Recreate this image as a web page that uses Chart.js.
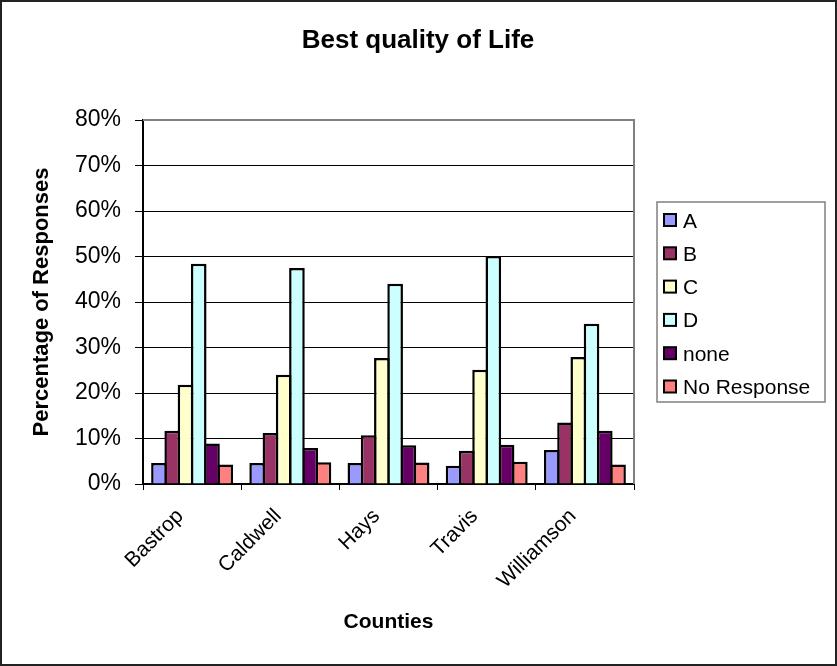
<!DOCTYPE html>
<html>
<head>
<meta charset="UTF-8">
<title>Best quality of Life</title>
<script src="https://cdn.jsdelivr.net/npm/chart.js"></script>
<style>
  html, body { margin: 0; padding: 0; background: #fff; }
  #wrap { width: 837px; height: 666px; }
</style>
</head>
<body>
<div id="wrap"><canvas id="chart" width="837" height="666"></canvas></div>
<script>
// data (percent)
const counties = ['Bastrop', 'Caldwell', 'Hays', 'Travis', 'Williamson'];
const seriesNames = ['A', 'B', 'C', 'D', 'none', 'No Response'];
const valuesA    = [4.6, 4.6, 4.6, 4.0, 7.5];
const valuesB    = [11.7, 11.2, 10.7, 7.3, 13.5];
const valuesC    = [21.8, 24.0, 27.7, 25.1, 27.9];
const valuesD    = [48.4, 47.5, 44.0, 50.1, 35.2];
const valuesNone = [8.9, 7.9, 8.5, 8.6, 11.7];
const valuesNR   = [4.3, 4.8, 4.7, 4.9, 4.3];
const colors = ['#9999FF', '#993366', '#FFFFCC', '#CCFFFF', '#660066', '#FF8080'];

const allValues = [valuesA, valuesB, valuesC, valuesD, valuesNone, valuesNR];
const FONT = '"Liberation Sans", Arial, sans-serif';

// outer frame, title, legend and plot border drawn by hand
const framePlugin = {
    id: 'frame',
    afterDraw(chart) {
        const ctx = chart.ctx;
        ctx.save();
        ctx.strokeStyle = '#222';
        ctx.lineWidth = 2;
        ctx.strokeRect(1, 1, 835, 664);

        // title
        ctx.fillStyle = '#000';
        ctx.font = 'bold 26px ' + FONT;
        ctx.textAlign = 'center';
        ctx.textBaseline = 'alphabetic';
        ctx.fillText('Best quality of Life', 418, 48);

        // legend
        const lx = 657, ly = 202, lw = 168, lh = 200;
        ctx.strokeStyle = '#808080';
        ctx.lineWidth = 1.5;
        ctx.strokeRect(lx, ly, lw, lh);
        ctx.font = '21px ' + FONT;
        ctx.textAlign = 'left';
        ctx.textBaseline = 'alphabetic';
        seriesNames.forEach((name, i) => {
            const cy = 220 + i * 33.3;
            ctx.fillStyle = colors[i];
            ctx.fillRect(664, cy - 6, 12, 12);
            ctx.strokeStyle = '#000';
            ctx.lineWidth = 2;
            ctx.strokeRect(664, cy - 6, 12, 12);
            ctx.fillStyle = '#000';
            ctx.fillText(name, 683, cy + 7.5);
        });

        // plot area border (grey)
        const a = chart.chartArea;
        ctx.strokeStyle = '#808080';
        ctx.lineWidth = 2;
        ctx.beginPath();
        ctx.moveTo(a.left, a.top);
        ctx.lineTo(a.right, a.top);
        ctx.lineTo(a.right, a.bottom);
        ctx.stroke();
        ctx.restore();
    }
};

new Chart(document.getElementById('chart'), {
    type: 'bar',
    data: {
        labels: counties,
        datasets: seriesNames.map((name, i) => ({
            label: name,
            data: allValues[i],
            backgroundColor: colors[i],
            borderColor: '#000',
            borderWidth: 2.5,
            borderSkipped: 'bottom',
            categoryPercentage: 0.81,
            barPercentage: 1.18
        }))
    },
    options: {
        responsive: false,
        animation: false,
        layout: { padding: { left: 28, right: 203, top: 120, bottom: 24 } },
        plugins: {
            legend: { display: false },
            tooltip: { enabled: false },
            title: { display: false }
        },
        scales: {
            x: {
                grid: { display: true, drawOnChartArea: false, offset: true, color: '#000', tickLength: 6, lineWidth: 1 },
                border: { color: '#000', width: 2 },
                ticks: {
                    color: '#000',
                    font: { family: FONT, size: 21 },
                    minRotation: 45,
                    maxRotation: 45,
                    padding: 14,
                    labelOffset: -12
                },
                title: {
                    display: true,
                    text: 'Counties',
                    color: '#000',
                    font: { family: FONT, size: 21, weight: 'bold' },
                    padding: { top: 0, bottom: 7 }
                },
                afterFit(scale) { scale.height = 158; }
            },
            y: {
                min: 0,
                max: 80,
                grid: { color: '#000', lineWidth: 1, tickLength: 8 },
                border: { color: '#000', width: 2 },
                ticks: {
                    stepSize: 10,
                    color: '#000',
                    font: { family: FONT, size: 23 },
                    padding: 14,
                    callback: v => v + '%'
                },
                title: {
                    display: true,
                    text: 'Percentage of Responses',
                    color: '#000',
                    font: { family: FONT, size: 22, weight: 'bold' },
                    padding: { top: 1, bottom: 0 }
                },
                afterFit(scale) { scale.width = 115; }
            }
        }
    },
    plugins: [framePlugin]
});
</script>
</body>
</html>
